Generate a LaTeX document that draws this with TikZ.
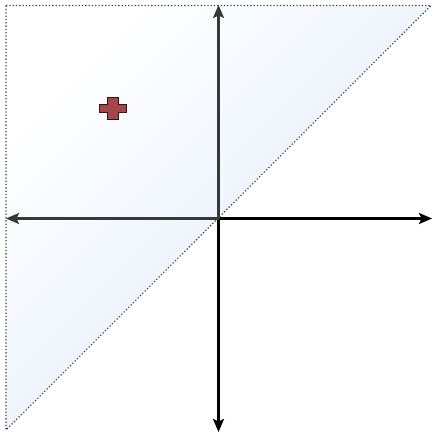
\documentclass[tikz,border=0pt]{standalone}
\usetikzlibrary{arrows.meta}
\begin{document}
\begin{tikzpicture}[x=1pt,y=-1pt,
  axis/.style={line width=2.2pt,-{Stealth[length=13pt,width=11pt,inset=2.5pt]}},
  region/.style={draw=black!75,line width=1.1pt,dash pattern=on 1.3pt off 2pt}]
\definecolor{lightblue}{HTML}{DFEBF9}
\definecolor{crossred}{HTML}{A3484A}
\useasboundingbox (0,0) rectangle (433,432);
\coordinate (O) at (218.5,218.5);
\coordinate (L) at (6,218.5);
\coordinate (R) at (432,218.5);
\coordinate (U) at (218.5,5);
\coordinate (D) at (218.5,432);
\coordinate (A) at (6,5.5);
\coordinate (B) at (431,5.5);
\coordinate (C) at (6,430);
\shade[top color=white,bottom color=lightblue,shading angle=45] (A) -- (B) -- (C) -- cycle;
\draw[axis,draw=black] (O) -- (R);
\draw[axis,draw=black] (O) -- (D);
\draw[axis,draw=black!78] (O) -- (L);
\draw[axis,draw=black!78] (O) -- (U);
\draw[region] (A) -- (B) -- (C) -- cycle;
\fill[crossred,draw=black!70!crossred,line width=0.8pt]
  (107.5,97.5) -- (118,97.5) -- (118,104.5) -- (126.5,104.5) -- (126.5,112.5) -- (118,112.5)
  -- (118,119) -- (107.5,119) -- (107.5,112.5) -- (99.5,112.5) -- (99.5,104.5) -- (107.5,104.5) -- cycle;
\end{tikzpicture}
\end{document}
